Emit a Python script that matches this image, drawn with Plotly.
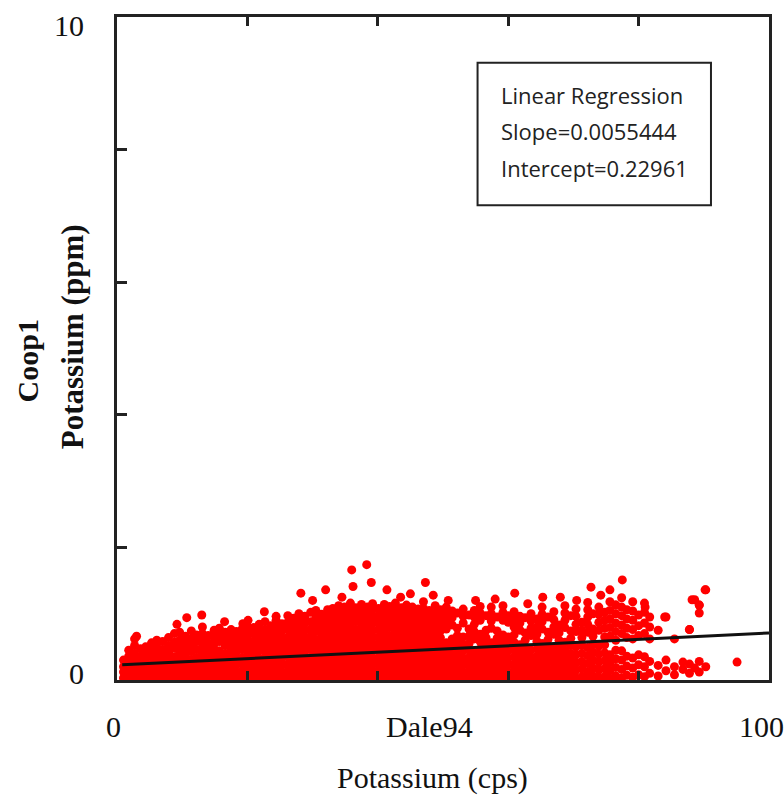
import plotly.graph_objects as go

# ---------------- data ----------------
# dense cloud, grouped by column: Dale94 potassium (cps) -> Coop1 potassium (ppm)
col_cps = [1.0, 1.8, 2.7, 3.6, 4.4, 5.3, 6.1, 7.0, 7.9, 8.8, 9.6, 10.5, 11.4, 12.2, 13.1,
           14.0, 14.9, 15.7, 16.6, 17.5, 18.3, 19.2, 20.1, 21.0, 21.8, 22.7, 23.6, 24.4,
           25.3, 26.2, 27.1, 27.9, 28.8, 29.7, 30.5, 31.4, 32.3, 33.1, 34.0, 34.9, 35.8,
           36.6, 37.5, 38.4, 39.2, 40.1, 41.0, 41.8, 42.7, 43.6, 44.4, 45.3, 46.2, 47.0,
           47.9, 48.8, 49.6, 50.5, 51.4, 52.2, 53.1, 54.0, 54.8, 55.7, 56.6, 57.4, 58.3,
           59.2, 60.0, 60.9, 61.8, 62.6, 63.5, 64.4, 65.2, 66.1, 67.0, 67.8, 68.7, 69.6,
           70.4, 71.3, 72.2, 73.0, 73.9, 74.8, 75.6, 76.5, 77.4, 78.2, 79.1, 80.0, 80.9,
           81.7, 83.0, 84.2, 85.5, 86.8, 87.8, 88.6, 89.3, 90.3, 95.1]
col_ppm = [
    [0.03, 0.12, 0.2, 0.3],
    [0.05, 0.15, 0.25, 0.36, 0.45],
    [0.02, 0.1, 0.2, 0.31, 0.4, 0.52, 0.62],
    [0.06, 0.16, 0.26, 0.35, 0.47],
    [0.03, 0.12, 0.22, 0.32, 0.42, 0.5],
    [0.05, 0.14, 0.24, 0.36, 0.45, 0.56],
    [0.02, 0.1, 0.19, 0.3, 0.39, 0.5, 0.6],
    [0.06, 0.15, 0.27, 0.37, 0.46, 0.58],
    [0.03, 0.12, 0.22, 0.33, 0.42, 0.52, 0.64],
    [0.05, 0.16, 0.25, 0.35, 0.48, 0.57, 0.7],
    [0.02, 0.11, 0.2, 0.3, 0.41, 0.5, 0.6, 0.72],
    [0.06, 0.15, 0.24, 0.36, 0.44, 0.55, 0.66],
    [0.03, 0.12, 0.22, 0.31, 0.43, 0.52, 0.62, 0.74],
    [0.05, 0.14, 0.25, 0.34, 0.46, 0.58, 0.68],
    [0.02, 0.1, 0.2, 0.29, 0.4, 0.5, 0.61, 0.7, 0.8],
    [0.06, 0.16, 0.26, 0.37, 0.47, 0.56, 0.67],
    [0.03, 0.13, 0.22, 0.33, 0.43, 0.54, 0.64, 0.75],
    [0.05, 0.15, 0.24, 0.35, 0.44, 0.58, 0.68, 0.78],
    [0.02, 0.11, 0.21, 0.31, 0.4, 0.52, 0.62, 0.72],
    [0.06, 0.15, 0.26, 0.36, 0.45, 0.55, 0.66, 0.76],
    [0.03, 0.12, 0.23, 0.32, 0.43, 0.53, 0.63, 0.73],
    [0.05, 0.14, 0.25, 0.34, 0.46, 0.57, 0.67, 0.77],
    [0.02, 0.1, 0.2, 0.3, 0.41, 0.5, 0.6, 0.7, 0.8, 0.9],
    [0.06, 0.16, 0.27, 0.36, 0.47, 0.58, 0.69, 0.79],
    [0.03, 0.13, 0.22, 0.32, 0.44, 0.53, 0.63, 0.74, 0.84],
    [0.05, 0.15, 0.25, 0.35, 0.45, 0.56, 0.66, 0.76, 0.88],
    [0.02, 0.11, 0.21, 0.31, 0.4, 0.51, 0.62, 0.72, 0.82],
    [0.06, 0.16, 0.26, 0.37, 0.46, 0.57, 0.68, 0.78, 0.9],
    [0.03, 0.12, 0.23, 0.33, 0.43, 0.53, 0.64, 0.74, 0.85],
    [0.05, 0.14, 0.24, 0.35, 0.45, 0.55, 0.65, 0.77, 0.87, 0.97],
    [0.02, 0.1, 0.2, 0.3, 0.41, 0.52, 0.62, 0.71, 0.83, 0.93],
    [0.06, 0.16, 0.27, 0.36, 0.47, 0.58, 0.68, 0.8, 0.9, 1.0],
    [0.03, 0.13, 0.22, 0.32, 0.43, 0.54, 0.64, 0.75, 0.86, 0.96],
    [0.05, 0.15, 0.25, 0.34, 0.46, 0.56, 0.66, 0.77, 0.88, 1.02],
    [0.02, 0.11, 0.21, 0.31, 0.42, 0.51, 0.61, 0.73, 0.84, 0.94, 1.05],
    [0.06, 0.16, 0.26, 0.36, 0.46, 0.57, 0.67, 0.78, 0.89, 0.99],
    [0.03, 0.12, 0.23, 0.33, 0.44, 0.53, 0.63, 0.74, 0.85, 0.95, 1.06],
    [0.05, 0.14, 0.24, 0.35, 0.45, 0.55, 0.66, 0.76, 0.87, 0.98, 1.08],
    [0.02, 0.1, 0.2, 0.31, 0.41, 0.52, 0.62, 0.72, 0.82, 0.93, 1.03, 1.12],
    [0.06, 0.16, 0.27, 0.37, 0.47, 0.58, 0.68, 0.79, 0.9, 1.0, 1.1],
    [0.03, 0.13, 0.22, 0.32, 0.43, 0.54, 0.64, 0.75, 0.85, 0.96, 1.07, 1.16],
    [0.05, 0.15, 0.25, 0.35, 0.45, 0.56, 0.66, 0.76, 0.88, 0.98, 1.09],
    [0.02, 0.11, 0.21, 0.31, 0.41, 0.51, 0.61, 0.72, 0.83, 0.93, 1.04, 1.14],
    [0.06, 0.16, 0.26, 0.36, 0.46, 0.57, 0.68, 0.78, 0.89, 0.99, 1.1],
    [0.03, 0.12, 0.23, 0.33, 0.44, 0.54, 0.64, 0.74, 0.85, 0.95, 1.06, 1.15],
    [0.05, 0.14, 0.24, 0.34, 0.45, 0.55, 0.65, 0.76, 0.87, 0.97, 1.08],
    [0.02, 0.1, 0.2, 0.3, 0.41, 0.52, 0.62, 0.72, 0.83, 0.93, 1.04, 1.14],
    [0.06, 0.16, 0.27, 0.37, 0.47, 0.57, 0.67, 0.79, 0.9, 1.0, 1.11],
    [0.03, 0.13, 0.22, 0.32, 0.43, 0.53, 0.64, 0.74, 0.85, 0.95, 1.05, 1.16],
    [0.05, 0.15, 0.25, 0.35, 0.45, 0.56, 0.66, 0.77, 0.88, 0.98, 1.09],
    [0.02, 0.11, 0.21, 0.31, 0.42, 0.51, 0.61, 0.71, 0.82, 0.92, 1.03, 1.13],
    [0.06, 0.16, 0.26, 0.36, 0.46, 0.57, 0.67, 0.78, 0.89, 0.99, 1.1],
    [0.03, 0.12, 0.23, 0.33, 0.44, 0.54, 0.64, 0.75, 0.85, 0.96, 1.07],
    [0.05, 0.14, 0.24, 0.34, 0.45, 0.55, 0.66, 0.76, 0.87, 0.97, 1.08, 1.18],
    [0.02, 0.1, 0.2, 0.31, 0.41, 0.52, 0.62, 0.73, 0.83, 0.94, 1.05],
    [0.06, 0.16, 0.27, 0.37, 0.47, 0.58, 0.68, 0.79, 0.9, 1.0, 1.12],
    [0.03, 0.13, 0.22, 0.32, 0.43, 0.53, 0.64, 0.74, 0.85, 0.95, 1.06],
    [0.05, 0.15, 0.25, 0.35, 0.45, 0.56, 0.77, 0.88, 0.99, 1.1],
    [0.02, 0.11, 0.21, 0.31, 0.42, 0.52, 0.62, 0.83, 0.94, 1.04],
    [0.06, 0.16, 0.26, 0.36, 0.46, 0.57, 0.67, 0.78, 1.01],
    [0.03, 0.12, 0.23, 0.33, 0.44, 0.54, 0.65, 0.86, 0.96, 1.07],
    [0.05, 0.14, 0.24, 0.34, 0.45, 0.55, 0.66, 0.77, 0.98],
    [0.02, 0.1, 0.2, 0.31, 0.41, 0.62, 0.73, 0.84, 0.95, 1.05],
    [0.06, 0.16, 0.27, 0.37, 0.47, 0.58, 0.69, 0.9, 1.01, 1.11],
    [0.03, 0.13, 0.22, 0.32, 0.43, 0.53, 0.64, 0.75, 0.97],
    [0.05, 0.15, 0.25, 0.35, 0.46, 0.56, 0.78, 0.89, 1.0, 1.1],
    [0.02, 0.11, 0.21, 0.31, 0.42, 0.52, 0.63, 0.74, 0.95],
    [0.06, 0.16, 0.26, 0.36, 0.47, 0.57, 0.68, 0.9, 1.02, 1.12],
    [0.03, 0.12, 0.23, 0.33, 0.44, 0.55, 0.65, 0.87, 0.97],
    [0.05, 0.14, 0.24, 0.35, 0.46, 0.57, 0.68, 0.8, 0.91, 1.03],
    [0.02, 0.1, 0.2, 0.31, 0.42, 0.53, 0.75, 0.86, 0.96],
    [0.06, 0.16, 0.27, 0.38, 0.49, 0.6, 0.71, 0.94],
    [0.03, 0.13, 0.23, 0.34, 0.45, 0.67, 0.78, 0.89, 1.0],
    [0.05, 0.15, 0.26, 0.36, 0.47, 0.58, 0.69, 0.8, 0.92],
    [0.02, 0.11, 0.22, 0.33, 0.44, 0.55, 0.77, 0.88, 0.99, 1.1],
    [0.06, 0.17, 0.28, 0.39, 0.5, 0.61, 0.72, 0.95],
    [0.03, 0.14, 0.25, 0.36, 0.47, 0.69, 0.8, 0.91, 1.03],
    [0.05, 0.16, 0.27, 0.38, 0.49, 0.6, 0.71, 0.83],
    [0.02, 0.12, 0.23, 0.34, 0.45, 0.57, 0.79, 0.9, 1.01, 1.12],
    [0.06, 0.18, 0.29, 0.4, 0.52, 0.63, 0.74, 0.97],
    [0.03, 0.15, 0.26, 0.38, 0.5, 0.73, 0.84, 0.96, 1.07],
    [0.05, 0.17, 0.28, 0.4, 0.52, 0.64, 0.75, 0.87],
    [0.02, 0.13, 0.25, 0.37, 0.49, 0.72, 0.84, 0.95, 1.06, 1.17],
    [0.06, 0.18, 0.3, 0.42, 0.54, 0.66, 0.77, 1.0],
    [0.03, 0.15, 0.27, 0.39, 0.51, 0.75, 0.87, 0.99, 1.1],
    [0.05, 0.17, 0.29, 0.41, 0.53, 0.65, 0.78, 0.9, 1.02],
    [0.02, 0.14, 0.26, 0.38, 0.66, 0.79, 0.92, 1.05, 1.18],
    [0.06, 0.19, 0.32, 0.45, 0.6, 0.73, 0.86, 1.0, 1.13],
    [0.03, 0.16, 0.3, 0.44, 0.7, 0.83, 0.97, 1.1, 1.24],
    [0.07, 0.21, 0.36, 0.64, 0.78, 0.92, 1.06],
    [0.04, 0.18, 0.33, 0.62, 0.76, 0.9, 1.04, 1.18],
    [0.08, 0.23, 0.38, 0.67, 0.82, 0.98],
    [0.05, 0.2, 0.35, 0.7, 0.86, 1.02, 1.16],
    [0.1, 0.28, 0.62, 0.8, 0.95],
    [0.06, 0.22, 0.75],
    [0.14, 0.3, 0.95],
    [0.08, 0.2, 0.62],
    [0.16, 0.27],
    [0.1, 0.24, 0.76],
    [0.18, 1.21],
    [0.12, 0.28, 1.01, 1.13],
    [0.2, 1.36],
    [0.27],
]

# scattered points above the dense cloud
extra_cps = [3.0, 9.2, 10.7, 13.0, 16.5, 19.3, 22.6, 24.4, 28.2, 32.0, 36.0, 38.3, 36.2,
             39.0, 41.4, 47.3, 48.5, 50.8, 61.0, 65.3, 68.0, 72.7, 74.2, 77.5, 75.6, 76.5,
             81.0, 84.0, 90.2, 88.2, 89.3, 87.8, 30.0, 34.5, 43.5, 45.0, 55.0, 58.0, 63.0,
             70.5]
extra_ppm = [0.66, 0.84, 0.94, 0.98, 0.88, 0.85, 1.03, 0.96, 1.31, 1.36, 1.66, 1.74, 1.41,
             1.47, 1.36, 1.47, 1.28, 1.2, 1.31, 1.25, 1.25, 1.4, 1.28, 1.51, 1.36, 1.13,
             1.1, 0.95, 1.36, 1.21, 1.13, 0.76, 1.2, 1.25, 1.25, 1.3, 1.2, 1.22, 1.15,
             1.2]

# regression line (as drawn)
line_cps = [0.8, 100.0]
line_ppm = [0.23, 0.71]

# legend box text
reg_lines = ["Linear Regression", "Slope=0.0055444", "Intercept=0.22961"]

# tick labels
x_tick_vals = [0, 48, 100]
x_tick_text = ["0", "Dale94", "100"]
y_tick_vals = [0, 10]
y_tick_text = ["0", "10"]

# ---------------- build ----------------
cps, ppm = [], []
for xc, ys in zip(col_cps, col_ppm):
    for yv in ys:
        cps.append(xc)
        ppm.append(yv)
cps += extra_cps
ppm += extra_ppm

fig = go.Figure()
fig.add_trace(go.Scatter(x=cps, y=ppm, mode="markers",
                         marker=dict(color="#ff0000", size=9, line=dict(width=0)),
                         hoverinfo="skip", showlegend=False))
fig.add_trace(go.Scatter(x=line_cps, y=line_ppm, mode="lines",
                         line=dict(color="#111111", width=3),
                         hoverinfo="skip", showlegend=False))

W, H = 784, 796
L, R, T, B = 117, 12, 17, 116
pw, ph = W - L - R, H - T - B

serif = "Liberation Serif, Times New Roman, serif"
ann = []
# x tick labels
x_shift = {0: -4, 48: 0, 100: -8}
for v, t in zip(x_tick_vals, x_tick_text):
    ann.append(dict(x=v, y=0, xref="x", yref="paper", text=t, showarrow=False,
                    xanchor="center", yanchor="middle", xshift=x_shift[v], yshift=-46,
                    font=dict(family=serif, size=30, color="#111")))
# y tick labels
y_shift = {0: 7, 10: -8}
for v, t in zip(y_tick_vals, y_tick_text):
    ann.append(dict(x=0, y=v, xref="paper", yref="y", text=t, showarrow=False,
                    xanchor="right", yanchor="middle", xshift=-31, yshift=y_shift[v],
                    font=dict(family=serif, size=30, color="#111")))
# axis titles
ann.append(dict(x=(434 - L) / pw, y=-(778 - (T + ph)) / ph, xref="paper", yref="paper",
                text="Potassium (cps)", showarrow=False, xanchor="center", yanchor="middle",
                font=dict(family=serif, size=30, color="#111")))
ann.append(dict(x=-(L - 27) / pw, y=1 - (361 - T) / ph, xref="paper", yref="paper",
                text="<b>Coop1</b>", showarrow=False, textangle=-90,
                xanchor="center", yanchor="middle",
                font=dict(family=serif, size=30, color="#111")))
ann.append(dict(x=-(L - 72) / pw, y=1 - (337 - T) / ph, xref="paper", yref="paper",
                text="<b>Potassium (ppm)</b>", showarrow=False, textangle=-90,
                xanchor="center", yanchor="middle",
                font=dict(family=serif, size=31, color="#111")))
# regression text
for i, (t, yy) in enumerate(zip(reg_lines, [8.82, 8.28, 7.73])):
    ann.append(dict(x=58.6, y=yy, xref="x", yref="y", text=t, showarrow=False,
                    xanchor="left", yanchor="middle",
                    font=dict(family="Open Sans, sans-serif", size=22, color="#222")))

fig.update_layout(
    width=W, height=H,
    margin=dict(l=L, r=R, t=T, b=B),
    paper_bgcolor="white", plot_bgcolor="white",
    annotations=ann,
    shapes=[dict(type="rect", xref="x", yref="y", x0=55.3, x1=91.1, y0=7.16, y1=9.31,
                 line=dict(color="#222", width=2), fillcolor="rgba(0,0,0,0)")],
    xaxis=dict(range=[0, 100], showgrid=False, zeroline=False, showticklabels=False,
               showline=True, linecolor="#222", linewidth=3, mirror="ticks",
               ticks="inside", tickvals=[20, 40, 60, 80], ticklen=9, tickwidth=3,
               tickcolor="#222"),
    yaxis=dict(range=[0, 10], showgrid=False, zeroline=False, showticklabels=False,
               showline=True, linecolor="#222", linewidth=3, mirror=True,
               ticks="inside", tickvals=[2, 4, 6, 8], ticklen=10, tickwidth=3,
               tickcolor="#222"),
)

fig.write_html("out.html")
